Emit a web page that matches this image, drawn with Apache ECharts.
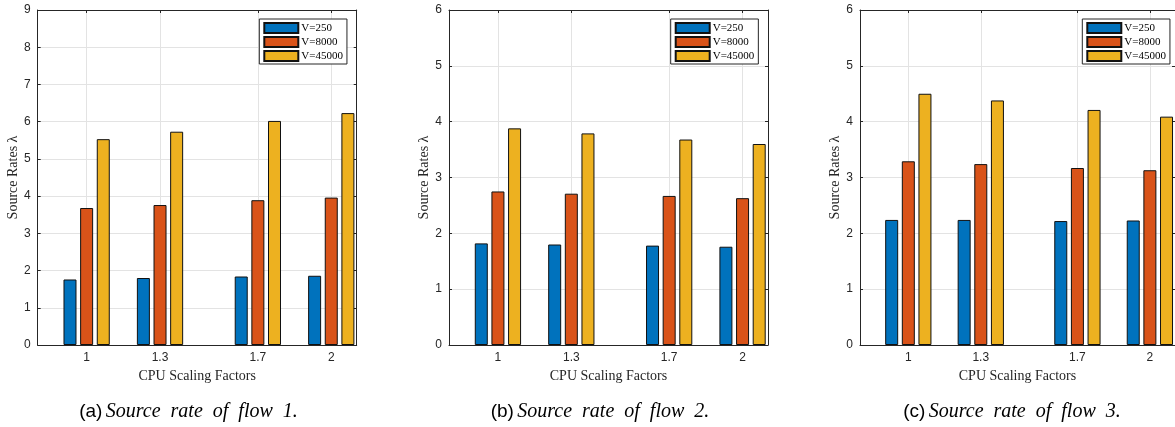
<!DOCTYPE html>
<html><head><meta charset="utf-8">
<script src="https://cdn.jsdelivr.net/npm/echarts@6/dist/echarts.min.js"></script>
<style>html,body{margin:0;padding:0;background:#fff}#c{width:1175px;height:427px}</style>
</head><body><div id="c"></div>
<script>
// ---- data ----
const cpuFactors = [1, 1.3, 1.7, 2];
const seriesNames = ['V=250', 'V=8000', 'V=45000'];
const flow1_V250   = [1.76, 1.80, 1.84, 1.86];
const flow1_V8000  = [3.68, 3.76, 3.89, 3.96];
const flow1_V45000 = [5.53, 5.73, 6.02, 6.23];
const flow2_V250   = [1.82, 1.80, 1.78, 1.76];
const flow2_V8000  = [2.75, 2.71, 2.67, 2.63];
const flow2_V45000 = [3.88, 3.79, 3.68, 3.60];
const flow3_V250   = [2.24, 2.24, 2.22, 2.23];
const flow3_V8000  = [3.29, 3.24, 3.17, 3.13];
const flow3_V45000 = [4.50, 4.38, 4.21, 4.09];
const yMaxes = [9, 6, 6];
const captionLabels = ['(a)', '(b)', '(c)'];
const captionTexts = ['Source rate of flow 1.', 'Source rate of flow 2.', 'Source rate of flow 3.'];
const xAxisName = 'CPU Scaling Factors';
const yAxisName = 'Source Rates λ';

// ---- layout / style ----
const flows = [
  [flow1_V250, flow1_V8000, flow1_V45000],
  [flow2_V250, flow2_V8000, flow2_V45000],
  [flow3_V250, flow3_V8000, flow3_V45000]
];
const colors = ['#0072BD', '#D95319', '#EDB120'];
const gridLefts = [37.7, 449, 860];
const gridTop = 10, gridW = 319, gridH = 335;
const legendLefts = [259.3, 670.7, 1082.3];
const captionCenters = [188.5, 600, 1012];
const axisColor = '#262626';
const gridLineColor = '#e3e3e3';
const sans = 'Liberation Sans';
const serif = 'Liberation Serif';

const grids = [], xAxes = [], yAxes = [], series = [], legends = [], graphics = [];
for (let g = 0; g < 3; g++) {
  grids.push({left: gridLefts[g], top: gridTop, width: gridW, height: gridH, containLabel: false});
}
// bottom x axes
for (let g = 0; g < 3; g++) {
  xAxes.push({
    type: 'value', gridIndex: g, min: 0.8, max: 2.104, position: 'bottom',
    axisLine: {show: true, onZero: false, lineStyle: {color: axisColor, width: 1}},
    axisTick: {show: true, inside: true, length: 3, customValues: cpuFactors, lineStyle: {color: axisColor}},
    axisLabel: {show: true, customValues: cpuFactors, formatter: v => String(v), margin: 7,
      color: axisColor, fontSize: 12, fontFamily: sans},
    splitLine: {show: true, lineStyle: {color: gridLineColor, width: 1}},
    name: xAxisName, nameLocation: 'middle', nameGap: 24,
    nameTextStyle: {fontFamily: serif, fontSize: 14, color: axisColor}
  });
}
// top x axes (box + mirrored ticks)
for (let g = 0; g < 3; g++) {
  xAxes.push({
    type: 'value', gridIndex: g, min: 0.8, max: 2.104, position: 'top',
    axisLine: {show: true, onZero: false, lineStyle: {color: axisColor, width: 1}},
    axisTick: {show: true, inside: true, length: 3, customValues: cpuFactors, lineStyle: {color: axisColor}},
    axisLabel: {show: false}, splitLine: {show: false}
  });
}
// left y axes
for (let g = 0; g < 3; g++) {
  yAxes.push({
    type: 'value', gridIndex: g, min: 0, max: yMaxes[g], interval: 1, position: 'left',
    axisLine: {show: true, onZero: false, lineStyle: {color: axisColor, width: 1}},
    axisTick: {show: true, inside: true, length: 3, lineStyle: {color: axisColor}},
    axisLabel: {show: true, margin: 7, color: axisColor, fontSize: 12, fontFamily: sans},
    splitLine: {show: true, lineStyle: {color: gridLineColor, width: 1}},
    name: yAxisName, nameLocation: 'middle', nameGap: 17,
    nameTextStyle: {fontFamily: serif, fontSize: 14, color: axisColor}
  });
}
// right y axes
for (let g = 0; g < 3; g++) {
  yAxes.push({
    type: 'value', gridIndex: g, min: 0, max: yMaxes[g], interval: 1, position: 'right',
    axisLine: {show: true, onZero: false, lineStyle: {color: axisColor, width: 1}},
    axisTick: {show: true, inside: true, length: 3, lineStyle: {color: axisColor}},
    axisLabel: {show: false}, splitLine: {show: false}
  });
}
for (let g = 0; g < 3; g++) {
  for (let s = 0; s < 3; s++) {
    series.push({
      type: 'bar', name: seriesNames[s], xAxisIndex: g, yAxisIndex: g,
      data: cpuFactors.map((x, i) => [x, flows[g][s][i]]),
      barWidth: 13, barGap: '28%',
      itemStyle: {color: colors[s], borderColor: '#111', borderWidth: 1},
      emphasis: {disabled: true}, animation: false
    });
  }
  legends.push({
    data: seriesNames, orient: 'vertical', left: legendLefts[g], top: 19,
    icon: 'rect', itemWidth: 34, itemHeight: 10, itemGap: 2,
    padding: [3, 4, 2, 4], borderColor: axisColor, borderWidth: 1, backgroundColor: '#fff',
    selectedMode: false,
    textStyle: {fontFamily: serif, fontSize: 11, color: '#000', padding: [0, 0, 0, -2]}
  });
  graphics.push({
    type: 'text', x: captionCenters[g], y: 412,
    style: {
      text: '{a|' + captionLabels[g] + '} {b|' + captionTexts[g].split(' ').join('  ') + '}',
      textAlign: 'center', textVerticalAlign: 'middle',
      rich: {
        a: {fontFamily: sans, fontSize: 19, fill: '#000'},
        b: {fontFamily: serif, fontStyle: 'italic', fontSize: 20, fill: '#000'}
      }
    }
  });
}

const chart = echarts.init(document.getElementById('c'), null, {renderer: 'canvas'});
chart.setOption({
  animation: false,
  backgroundColor: '#fff',
  grid: grids, xAxis: xAxes, yAxis: yAxes, series: series, legend: legends, graphic: graphics
});
</script>
</body></html>
